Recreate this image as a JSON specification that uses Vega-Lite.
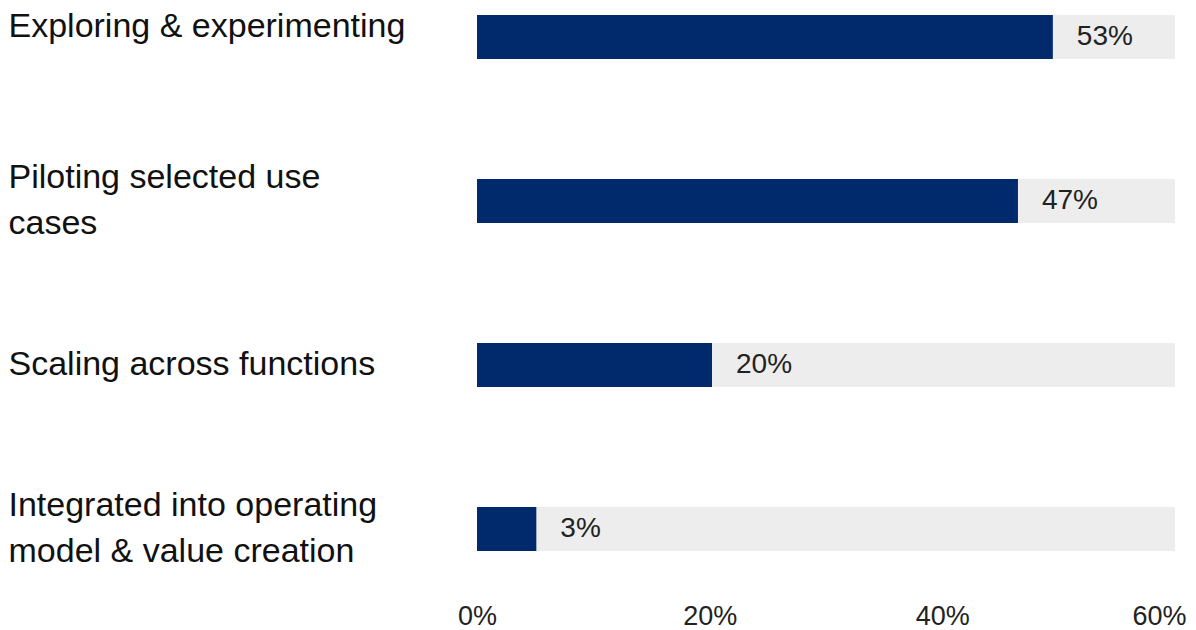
{
  "$schema": "https://vega.github.io/schema/vega-lite/v6.json",
  "autosize": {"type": "none"},
  "width": 698,
  "height": 566,
  "padding": {"left": 477, "top": 0, "right": 21, "bottom": 64},
  "background": "white",
  "config": {"view": {"stroke": null}, "font": "Liberation Sans"},
  "data": {
    "values": [
      {"stage": "Exploring & experimenting", "value": 53, "label": "53%", "bar": 49.5},
      {"stage": "Piloting selected use|cases", "value": 47, "label": "47%", "bar": 46.5},
      {"stage": "Scaling across functions", "value": 20, "label": "20%", "bar": 20.2},
      {"stage": "Integrated into operating|model & value creation", "value": 3, "label": "3%", "bar": 5.1}
    ]
  },
  "encoding": {
    "y": {
      "field": "stage",
      "type": "nominal",
      "sort": null,
      "scale": {"paddingInner": 0.732, "paddingOuter": 0.0915},
      "axis": {
        "title": null,
        "domain": false,
        "ticks": false,
        "tickSize": 0,
        "labelAlign": "left",
        "labelBaseline": "middle",
        "labelPadding": 469,
        "labelFontSize": 34,
        "labelLineHeight": 46,
        "labelColor": "#111111",
        "labelLimit": 0,
        "labelExpr": "split(datum.value, '|')",
        "labelOffset": {
          "condition": [
            {"test": "indexof(datum.value, '|') >= 0", "value": -23},
            {"test": "datum.value == 'Exploring & experimenting'", "value": -10}
          ],
          "value": 0
        }
      }
    }
  },
  "layer": [
    {
      "mark": {"type": "bar", "color": "#ededed"},
      "encoding": {
        "x": {
          "datum": 60,
          "type": "quantitative",
          "scale": {"domain": [0, 60], "nice": false},
          "axis": {
            "title": null,
            "domain": false,
            "ticks": false,
            "grid": false,
            "values": [0, 20, 40, 60],
            "labelExpr": "datum.value + '%'",
            "labelFontSize": 27,
            "labelColor": "#222222",
            "labelPadding": 37,
            "labelFlush": false,
            "labelBaseline": "top",
            "labelOffset": {"condition": {"test": "datum.value == 60", "value": -16}, "value": 0}
          }
        }
      }
    },
    {
      "mark": {"type": "bar", "color": "#002a6c"},
      "encoding": {
        "x": {"field": "bar", "type": "quantitative"}
      }
    },
    {
      "mark": {"type": "text", "align": "left", "baseline": "middle", "dx": 24, "fontSize": 28, "color": "#222222"},
      "encoding": {
        "x": {"field": "bar", "type": "quantitative"},
        "text": {"field": "label", "type": "nominal"}
      }
    }
  ]
}
